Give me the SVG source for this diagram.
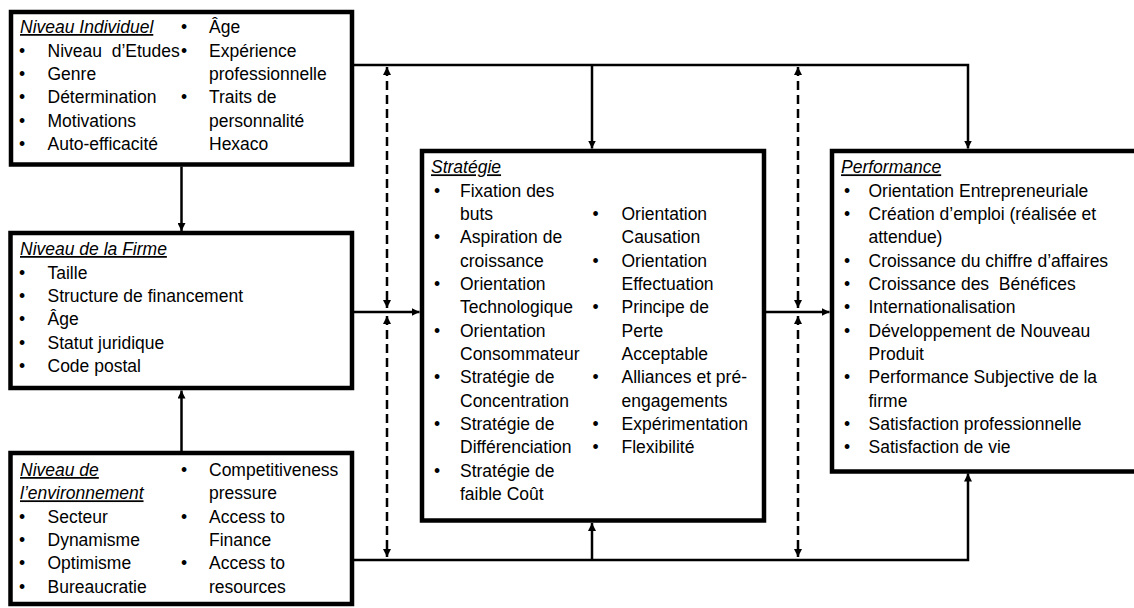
<svg xmlns="http://www.w3.org/2000/svg" width="1134" height="608" viewBox="0 0 1134 608">
<style>
  .box { fill: #fff; stroke: #000; stroke-width: 4.5; }
  text { font-family: "Liberation Sans", Arial, sans-serif; font-size: 17.5px; fill: #000; }
  .t { font-style: italic; text-decoration: underline; }
  .b { text-anchor: middle; }
  .pre { white-space: pre; }
  .ln { fill: none; stroke: #000; stroke-width: 2.5; }
  .ds { fill: none; stroke: #000; stroke-width: 2.5; stroke-dasharray: 9 5; }
</style>
<defs>
  <marker id="ah" markerUnits="userSpaceOnUse" markerWidth="9" markerHeight="8" refX="8" refY="4" orient="auto-start-reverse">
    <path d="M0,0 L8,4 L0,8 z" fill="#000"/>
  </marker>
</defs>

<g id="connectors">
  <line class="ln" x1="181.5" y1="166.5" x2="181.5" y2="231" marker-end="url(#ah)"/>
  <line class="ln" x1="181.5" y1="451" x2="181.5" y2="390.5" marker-end="url(#ah)"/>
  <polyline class="ln" points="354,65 968,65 968,148.5" marker-end="url(#ah)"/>
  <line class="ln" x1="592" y1="65" x2="592" y2="148.5" marker-end="url(#ah)"/>
  <line class="ln" x1="354" y1="312" x2="419.5" y2="312" marker-end="url(#ah)"/>
  <line class="ln" x1="766" y1="312" x2="829.5" y2="312" marker-end="url(#ah)"/>
  <polyline class="ln" points="354,560 968,560 968,473.5" marker-end="url(#ah)"/>
  <line class="ln" x1="592" y1="560" x2="592" y2="523" marker-end="url(#ah)"/>
  <line class="ds" x1="387" y1="67" x2="387" y2="308" marker-start="url(#ah)" marker-end="url(#ah)"/>
  <line class="ds" x1="387" y1="316" x2="387" y2="557" marker-start="url(#ah)" marker-end="url(#ah)"/>
  <line class="ds" x1="798" y1="67" x2="798" y2="308" marker-start="url(#ah)" marker-end="url(#ah)"/>
  <line class="ds" x1="798" y1="316" x2="798" y2="557" marker-start="url(#ah)" marker-end="url(#ah)"/>
</g>

<g id="individuel">
  <rect class="box" x="11" y="12" width="341" height="152.5"/>
  <text class="t" x="20" y="33">Niveau Individuel</text>
  <text class="b" x="22" y="56.5">•</text><text class="pre" x="47.5" y="56.5">Niveau  d’Etudes</text>
  <text class="b" x="22" y="80">•</text><text x="47.5" y="80">Genre</text>
  <text class="b" x="22" y="103.3">•</text><text x="47.5" y="103.3">Détermination</text>
  <text class="b" x="22" y="126.7">•</text><text x="47.5" y="126.7">Motivations</text>
  <text class="b" x="22" y="150">•</text><text x="47.5" y="150">Auto-efficacité</text>
  <text class="b" x="184" y="33">•</text><text x="209" y="33">Âge</text>
  <text class="b" x="184" y="56.5">•</text><text x="209" y="56.5">Expérience</text>
  <text x="209" y="80">professionnelle</text>
  <text class="b" x="184" y="103.3">•</text><text x="209" y="103.3">Traits de</text>
  <text x="209" y="126.7">personnalité</text>
  <text x="209" y="150">Hexaco</text>
</g>

<g id="firme">
  <rect class="box" x="10.5" y="233" width="341.5" height="155"/>
  <text class="t" x="20" y="255">Niveau de la Firme</text>
  <text class="b" x="22" y="278.5">•</text><text x="47.5" y="278.5">Taille</text>
  <text class="b" x="22" y="301.8">•</text><text x="47.5" y="301.8">Structure de financement</text>
  <text class="b" x="22" y="325.2">•</text><text x="47.5" y="325.2">Âge</text>
  <text class="b" x="22" y="348.5">•</text><text x="47.5" y="348.5">Statut juridique</text>
  <text class="b" x="22" y="371.8">•</text><text x="47.5" y="371.8">Code postal</text>
</g>

<g id="environnement">
  <rect class="box" x="10.5" y="453" width="341.5" height="151"/>
  <text class="t" x="20" y="476">Niveau de</text>
  <text class="t" x="20" y="499.3">l’environnement</text>
  <text class="b" x="22" y="522.7">•</text><text x="47.5" y="522.7">Secteur</text>
  <text class="b" x="22" y="546">•</text><text x="47.5" y="546">Dynamisme</text>
  <text class="b" x="22" y="569.3">•</text><text x="47.5" y="569.3">Optimisme</text>
  <text class="b" x="22" y="592.7">•</text><text x="47.5" y="592.7">Bureaucratie</text>
  <text class="b" x="184" y="476">•</text><text x="209" y="476">Competitiveness</text>
  <text x="209" y="499.3">pressure</text>
  <text class="b" x="184" y="522.7">•</text><text x="209" y="522.7">Access to</text>
  <text x="209" y="546">Finance</text>
  <text class="b" x="184" y="569.3">•</text><text x="209" y="569.3">Access to</text>
  <text x="209" y="592.7">resources</text>
</g>

<g id="strategie">
  <rect class="box" x="422" y="151" width="342" height="369.5"/>
  <text class="t" x="431" y="173.3">Stratégie</text>
  <text class="b" x="437" y="196.7">•</text><text x="460" y="196.7">Fixation des</text>
  <text x="460" y="220">buts</text>
  <text class="b" x="437" y="243.3">•</text><text x="460" y="243.3">Aspiration de</text>
  <text x="460" y="266.7">croissance</text>
  <text class="b" x="437" y="290">•</text><text x="460" y="290">Orientation</text>
  <text x="460" y="313.3">Technologique</text>
  <text class="b" x="437" y="336.7">•</text><text x="460" y="336.7">Orientation</text>
  <text x="460" y="360">Consommateur</text>
  <text class="b" x="437" y="383.3">•</text><text x="460" y="383.3">Stratégie de</text>
  <text x="460" y="406.7">Concentration</text>
  <text class="b" x="437" y="430">•</text><text x="460" y="430">Stratégie de</text>
  <text x="460" y="453.3">Différenciation</text>
  <text class="b" x="437" y="476.7">•</text><text x="460" y="476.7">Stratégie de</text>
  <text x="460" y="500">faible Coût</text>
  <text class="b" x="595.5" y="220">•</text><text x="621.5" y="220">Orientation</text>
  <text x="621.5" y="243.3">Causation</text>
  <text class="b" x="595.5" y="266.7">•</text><text x="621.5" y="266.7">Orientation</text>
  <text x="621.5" y="290">Effectuation</text>
  <text class="b" x="595.5" y="313.3">•</text><text x="621.5" y="313.3">Principe de</text>
  <text x="621.5" y="336.7">Perte</text>
  <text x="621.5" y="360">Acceptable</text>
  <text class="b" x="595.5" y="383.3">•</text><text x="621.5" y="383.3">Alliances et pré-</text>
  <text x="621.5" y="406.7">engagements</text>
  <text class="b" x="595.5" y="430">•</text><text x="621.5" y="430">Expérimentation</text>
  <text class="b" x="595.5" y="453.3">•</text><text x="621.5" y="453.3">Flexibilité</text>
</g>

<g id="performance">
  <rect class="box" x="832" y="151" width="310" height="320.5"/>
  <text class="t" x="841" y="173.3">Performance</text>
  <text class="b" x="847" y="196.7">•</text><text x="868.5" y="196.7">Orientation Entrepreneuriale</text>
  <text class="b" x="847" y="220">•</text><text x="868.5" y="220">Création d’emploi (réalisée et</text>
  <text x="868.5" y="243.3">attendue)</text>
  <text class="b" x="847" y="266.7">•</text><text x="868.5" y="266.7">Croissance du chiffre d’affaires</text>
  <text class="b" x="847" y="290">•</text><text class="pre" x="868.5" y="290">Croissance des  Bénéfices</text>
  <text class="b" x="847" y="313.3">•</text><text x="868.5" y="313.3">Internationalisation</text>
  <text class="b" x="847" y="336.7">•</text><text x="868.5" y="336.7">Développement de Nouveau</text>
  <text x="868.5" y="360">Produit</text>
  <text class="b" x="847" y="383.3">•</text><text x="868.5" y="383.3">Performance Subjective de la</text>
  <text x="868.5" y="406.7">firme</text>
  <text class="b" x="847" y="430">•</text><text x="868.5" y="430">Satisfaction professionnelle</text>
  <text class="b" x="847" y="453.3">•</text><text x="868.5" y="453.3">Satisfaction de vie</text>
</g>
</svg>
